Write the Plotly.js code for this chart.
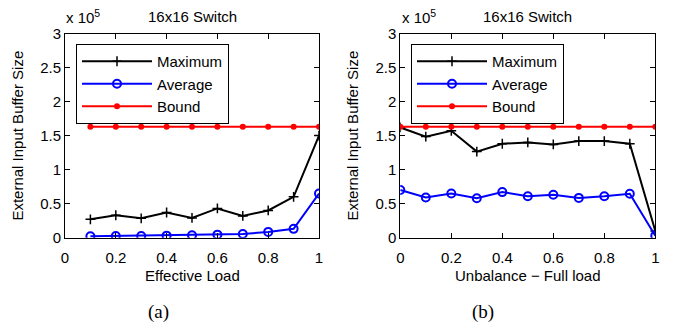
<!DOCTYPE html>
<html><head><meta charset="utf-8">
<script src="https://cdn.plot.ly/plotly-3.0.1.min.js"></script>
<style>html,body{margin:0;padding:0;background:#fff}#chart{width:678px;height:329px}</style>
</head><body><div id="chart"></div>
<script>
// values in units of 10^5
const loadA = [0.1,0.2,0.3,0.4,0.5,0.6,0.7,0.8,0.9,1.0];
const maxA  = [0.27,0.33,0.285,0.37,0.29,0.43,0.32,0.40,0.60,1.50];
const avgA  = [0.02,0.025,0.025,0.03,0.035,0.045,0.055,0.085,0.13,0.65];
const boundA= [1.63,1.63,1.63,1.63,1.63,1.63,1.63,1.63,1.63,1.63];

const unbalB = [0,0.1,0.2,0.3,0.4,0.5,0.6,0.7,0.8,0.9,1.0];
const maxB   = [1.62,1.485,1.57,1.265,1.38,1.40,1.37,1.42,1.42,1.38,0.10];
const avgB   = [0.70,0.59,0.65,0.58,0.67,0.61,0.63,0.585,0.61,0.645,0.03];
const boundB = [1.63,1.63,1.63,1.63,1.63,1.63,1.63,1.63,1.63,1.63,1.63];

const xTicks = [0,0.2,0.4,0.6,0.8,1];
const xTickText = ['0','0.2','0.4','0.6','0.8','1'];
const yTicks = [0,0.5,1,1.5,2,2.5,3];
const yTickText = ['0','0.5','1','1.5','2','2.5','3'];
const names = ['Maximum','Average','Bound'];

const F = 'Liberation Sans, Arial, Helvetica, sans-serif';
function mk(x,y,name,color,sym,msize,xa,ya,leg,lw){
  return {x:x,y:y,name:name,type:'scatter',mode:'lines+markers',xaxis:xa,yaxis:ya,legend:leg,
    line:{color:color,width:2},
    marker:{symbol:sym,size:msize,color:color,line:{color:color,width:lw}}};
}
const data = [
  mk(loadA,maxA,names[0],'#000','cross-thin',7,'x','y','legend',1.5),
  mk(loadA,avgA,names[1],'#0000ff','circle-open',8,'x','y','legend',2),
  mk(loadA,boundA,names[2],'#ff0000','circle',6,'x','y','legend',0),
  mk(unbalB,maxB,names[0],'#000','cross-thin',7,'x2','y2','legend2',1.5),
  mk(unbalB,avgB,names[1],'#0000ff','circle-open',8,'x2','y2','legend2',2),
  mk(unbalB,boundB,names[2],'#ff0000','circle',6,'x2','y2','legend2',0)
];
const W=678,H=329;
function ax(dom,anchor,vals,text,range,stand){
  return {domain:dom,anchor:anchor,range:range,tickvals:vals,ticktext:text,
    showline:true,linecolor:'#000',linewidth:1,mirror:'ticks',ticks:'inside',ticklen:5,
    tickcolor:'#000',tickwidth:1,showgrid:false,zeroline:false,ticklabelstandoff:stand,
    tickfont:{family:F,size:15,color:'#000'},fixedrange:true};
}
const yd=[1-237.7/H,1-33.5/H];
const legendCommon = {bordercolor:'#000',borderwidth:1,bgcolor:'#fff',
  font:{family:F,size:15,color:'#000'},xanchor:'left',yanchor:'top',tracegroupgap:0,itemwidth:70};
function ann(text,x,y,extra){
  return Object.assign({text:text,x:x/W,y:1-y/H,xref:'paper',yref:'paper',showarrow:false,
    xanchor:'center',yanchor:'middle',font:{family:F,size:15,color:'#000'}},extra||{});
}
const serif = {family:'Liberation Serif, Times New Roman, serif',size:19,color:'#000'};
const layout = {
  width:W,height:H,margin:{l:0,r:0,t:0,b:0},paper_bgcolor:'#fff',plot_bgcolor:'#fff',
  showlegend:true,
  xaxis: ax([65/W,319/W],'y',xTicks,xTickText,[0,1],6),
  yaxis: ax(yd,'x',yTicks,yTickText,[0,3],0),
  xaxis2: ax([400.3/W,655.3/W],'y2',xTicks,xTickText,[0,1],6),
  yaxis2: ax(yd,'x2',yTicks,yTickText,[0,3],0),
  legend: Object.assign({x:76/W,y:1-44/H},legendCommon),
  legend2: Object.assign({x:411/W,y:1-44/H},legendCommon),
  annotations:[
    ann('16x16 Switch',192.5,16.7),
    ann('16x16 Switch',527.5,16.7),
    ann('x 10<sup>5</sup>',64,16,{xanchor:'left'}),
    ann('x 10<sup>5</sup>',400,16,{xanchor:'left'}),
    ann('External Input Buffer Size',18,135.6,{textangle:-90}),
    ann('External Input Buffer Size',353,135.6,{textangle:-90}),
    ann('Effective Load',192,275),
    ann('Unbalance \u2212 Full load',527.5,275),
    ann('(a)',158.7,311.7,{font:serif}),
    ann('(b)',482.5,311.7,{font:serif})
  ]
};
Plotly.newPlot('chart',data,layout,{displayModeBar:false,staticPlot:true});
</script></body></html>
